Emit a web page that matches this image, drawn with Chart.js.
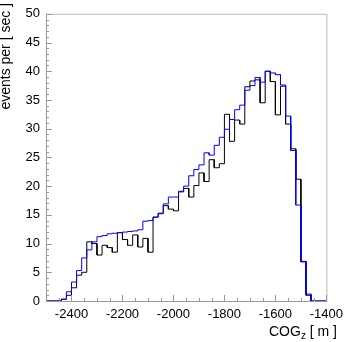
<!DOCTYPE html>
<html>
<head>
<meta charset="utf-8">
<script src="https://cdn.jsdelivr.net/npm/chart.js@4/dist/chart.umd.min.js"></script>
<style>
  html, body { margin: 0; padding: 0; background: #fff; }
  #wrap { width: 349px; height: 342px; }
</style>
</head>
<body>
<div id="wrap"><canvas id="cogChart" width="349" height="342"></canvas></div>
<script>
// bin edges of the COG_z histogram (m)
const binEdges = [
  -2500, -2480, -2460, -2440, -2420, -2400, -2380, -2360, -2340, -2320,
  -2300, -2280, -2260, -2240, -2220, -2200, -2180, -2160, -2140, -2120,
  -2100, -2080, -2060, -2040, -2020, -2000, -1980, -1960, -1940, -1920,
  -1900, -1880, -1860, -1840, -1820, -1800, -1780, -1760, -1740, -1720,
  -1700, -1680, -1660, -1640, -1620, -1600, -1580, -1560, -1540, -1520,
  -1500, -1480, -1460, -1440, -1420, -1400
];

// black histogram
const blackCounts = [
  0, 0, 0, 0.3, 1.0, 2.3, 4.5, 5.0, 10.3, 10.0,
  8.0, 9.7, 9.3, 8.5, 11.9, 10.7, 9.7, 11.5, 9.4, 10.9,
  8.5, 14.6, 15.2, 16.6, 16.0, 15.7, 19.0, 19.6, 18.1, 20.1,
  22.3, 20.8, 24.6, 23.2, 23.9, 32.5, 27.8, 31.5, 30.8, 37.3,
  38.3, 38.5, 34.5, 40.0, 38.2, 32.4, 37.4, 30.8, 26.5, 21.2,
  6.9, 1.0, 0, 0, 0
];

// blue histogram
const blueCounts = [
  0, 0, 0, 0.3, 1.6, 3.3, 5.3, 7.5, 8.9, 10.3,
  11.2, 11.4, 11.7, 11.8, 11.9, 12.0, 12.1, 12.2, 12.4, 13.9,
  14.0, 14.6, 15.3, 16.9, 18.1, 18.1, 19.1, 20.0, 21.8, 22.9,
  23.7, 25.8, 25.4, 27.1, 28.5, 29.9, 31.6, 33.3, 34.1, 36.7,
  37.5, 38.9, 38.1, 40.0, 39.7, 39.4, 37.6, 32.2, 26.2, 16.7,
  6.8, 1.2, 0, 0, 0
];

const xTickValues = [-2400, -2200, -2000, -1800, -1600, -1400];
const yTickValues = [0, 5, 10, 15, 20, 25, 30, 35, 40, 45, 50];

const FONT = "'Liberation Sans', Arial, sans-serif";

// turn bin contents into a histogram outline
function outline(counts) {
  const pts = [];
  counts.forEach((c, i) => {
    pts.push({ x: binEdges[i], y: c });
    pts.push({ x: binEdges[i + 1], y: c });
  });
  return pts;
}

// frame, inward tick marks and axis titles
const framePlugin = {
  id: "frame",
  afterDatasetsDraw(chart) {
    const ctx = chart.ctx;
    const a = chart.chartArea;
    const xs = chart.scales.x;
    const ys = chart.scales.y;
    ctx.save();

    ctx.strokeStyle = "#bbbbbb";
    ctx.lineWidth = 1;
    ctx.beginPath();
    ctx.moveTo(a.left, a.top + 0.5);
    ctx.lineTo(a.right + 0.5, a.top + 0.5);
    ctx.lineTo(a.right + 0.5, a.bottom);
    ctx.stroke();

    ctx.strokeStyle = "#999999";
    ctx.beginPath();
    ctx.moveTo(a.left + 0.5, a.top);
    ctx.lineTo(a.left + 0.5, a.bottom + 0.5);
    ctx.lineTo(a.right + 1, a.bottom + 0.5);
    // y ticks
    for (let v = 0; v <= 50; v += 1) {
      const y = Math.round(ys.getPixelForValue(v)) + 0.5;
      const len = v % 5 === 0 ? 6 : 3;
      ctx.moveTo(a.left, y);
      ctx.lineTo(a.left + len, y);
    }
    // x ticks
    for (let v = -2500; v <= -1400; v += 50) {
      const x = Math.round(xs.getPixelForValue(v)) + 0.5;
      const len = v % 200 === 0 ? 6 : 3;
      ctx.moveTo(x, a.bottom);
      ctx.lineTo(x, a.bottom - len);
    }
    ctx.stroke();

    ctx.fillStyle = "#000";
    // x title with subscript
    const base = 336;
    ctx.font = "14px " + FONT;
    const w1 = ctx.measureText("COG").width;
    const w3 = ctx.measureText(" [ m ]").width;
    ctx.font = "10px " + FONT;
    const w2 = ctx.measureText("z").width;
    let x0 = 337 - w1 - w2 - w3;
    ctx.textBaseline = "alphabetic";
    ctx.textAlign = "left";
    ctx.font = "14px " + FONT;
    ctx.fillText("COG", x0, base);
    ctx.font = "10px " + FONT;
    ctx.fillText("z", x0 + w1, base + 3);
    ctx.font = "14px " + FONT;
    ctx.fillText(" [ m ]", x0 + w1 + w2, base);

    // y title
    ctx.translate(10, 3);
    ctx.rotate(-Math.PI / 2);
    ctx.textAlign = "right";
    ctx.fillText("events per [ sec ]", 0, 0);

    ctx.restore();
  }
};

const chart = new Chart(document.getElementById("cogChart"), {
  type: "line",
  data: {
    datasets: [
      {
        label: "blue",
        data: outline(blueCounts),
        borderColor: "#0000ff",
        borderWidth: 1,
        pointRadius: 0,
        fill: false,
        tension: 0
      },
      {
        label: "black",
        data: outline(blackCounts),
        borderColor: "#000000",
        borderWidth: 1,
        pointRadius: 0,
        fill: false,
        tension: 0
      }
    ]
  },
  options: {
    responsive: false,
    animation: false,
    layout: { padding: { top: 4, right: 18, left: 0, bottom: 0 } },
    plugins: {
      legend: { display: false },
      tooltip: { enabled: false }
    },
    scales: {
      x: {
        type: "linear",
        min: -2500,
        max: -1400,
        grid: { display: false, drawTicks: false },
        border: { display: false },
        afterBuildTicks(scale) {
          scale.ticks = xTickValues.map(v => ({ value: v }));
        },
        afterFit(scale) { scale.height = 41; },
        ticks: {
          padding: 6,
          maxRotation: 0,
          autoSkip: false,
          color: "#000",
          font: { family: FONT, size: 13 },
          callback: v => String(v)
        }
      },
      y: {
        min: 0,
        max: 50,
        grid: { display: false, drawTicks: false },
        border: { display: false },
        afterBuildTicks(scale) {
          scale.ticks = yTickValues.map(v => ({ value: v }));
        },
        afterFit(scale) { scale.width = 46; },
        ticks: {
          padding: 6,
          color: "#000",
          font: { family: FONT, size: 13 },
          callback: v => String(v)
        }
      }
    }
  },
  plugins: [framePlugin]
});
</script>
</body>
</html>
